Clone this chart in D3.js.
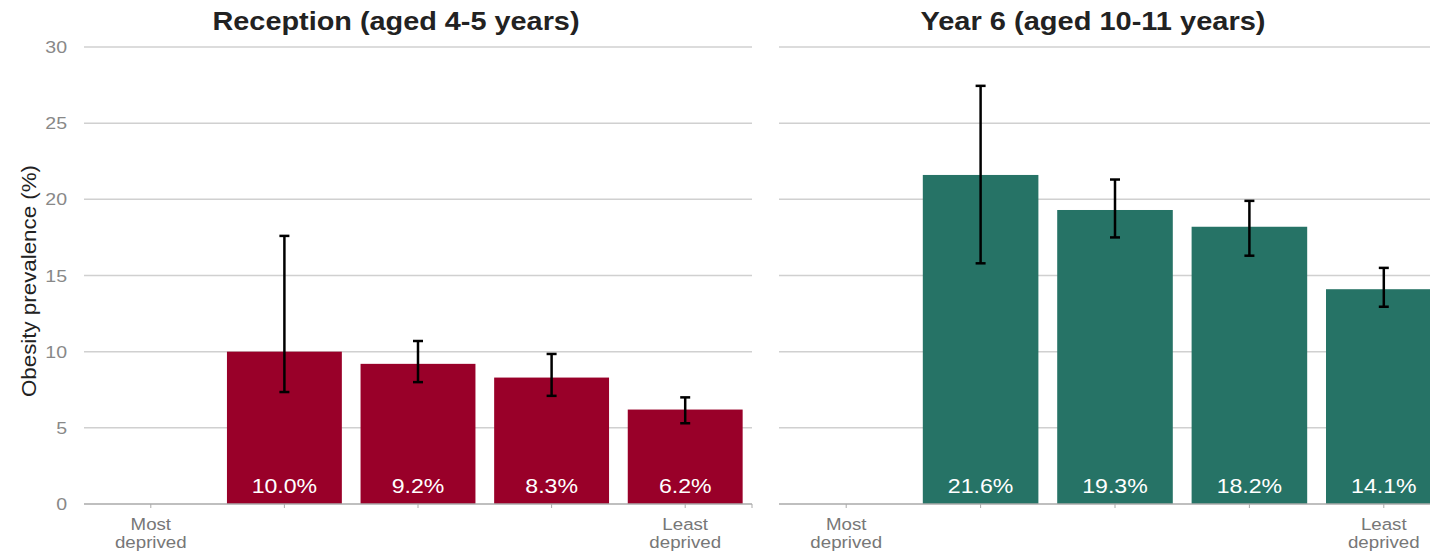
<!DOCTYPE html>
<html>
<head>
<script src="https://d3js.org/d3.v7.min.js"></script>
<style>
  body { margin: 0; background: #fff; }
  text { font-family: "Liberation Sans", Arial, sans-serif; }
</style>
</head>
<body>
<script>
var W = 1430, H = 552

var categories = ['Most deprived', 'Q2', 'Q3', 'Q4', 'Least deprived']
var yTicks = [0, 5, 10, 15, 20, 25, 30]

var receptionTitle = 'Reception (aged 4-5 years)'
var receptionValues = [null, 10.0, 9.2, 8.3, 6.2]
var receptionLower = [null, 7.35, 8.0, 7.1, 5.3]
var receptionUpper = [null, 17.6, 10.7, 9.85, 7.0]

var year6Title = 'Year 6 (aged 10-11 years)'
var year6Values = [null, 21.6, 19.3, 18.2, 14.1]
var year6Lower = [null, 15.8, 17.5, 16.3, 12.95]
var year6Upper = [null, 27.45, 21.3, 19.9, 15.5]

var svg = d3.select('body').append('svg')
  .attr('width', W)
  .attr('height', H)

var y = d3.scaleLinear().domain([0, 30]).range([504, 47])

// the source image is a bit wider than tall, so text gets stretched sideways
function stretch(sel, fx, fy, sx) {
  sel.attr('transform', function(d, i) {
    return 'translate(' + fx(d, i) + ',' + fy(d, i) + ') scale(' + sx + ',1)'
  })
}

function panel(x0, x1, title, titleLen, values, lower, upper, colour, showAxis) {
  var g = svg.append('g')
  var x = d3.scaleBand().domain(categories).range([x0, x1]).paddingInner(0.14).paddingOuter(0.07)
  var mid = function(c){ return x(c) + x.bandwidth() / 2 }

  // gridlines
  g.selectAll('line.grid')
    .data(yTicks.filter(function(d){ return d > 0 }))
    .enter().append('line')
    .attr('x1', x0).attr('x2', x1)
    .attr('y1', function(d){ return y(d) }).attr('y2', function(d){ return y(d) })
    .attr('stroke', '#d0d0d0').attr('stroke-width', 1.5)

  if (showAxis) {
    g.selectAll('text.tick')
      .data(yTicks)
      .enter().append('text')
      .attr('text-anchor', 'end')
      .attr('fill', '#888')
      .attr('font-size', '17px')
      .text(function(d){ return d })
      .call(stretch, function(){ return 67 }, function(d){ return y(d) + 6 }, 1.15)
  }

  var rows = categories.map(function(c, i) {
    return {cat: c, v: values[i], lo: lower[i], hi: upper[i]}
  }).filter(function(d){ return d.v != null })

  g.selectAll('rect.bar')
    .data(rows)
    .enter().append('rect')
    .attr('x', function(d){ return x(d.cat) })
    .attr('width', x.bandwidth())
    .attr('y', function(d){ return y(d.v) })
    .attr('height', function(d){ return y(0) - y(d.v) })
    .attr('fill', colour)

  g.selectAll('text.val')
    .data(rows)
    .enter().append('text')
    .attr('text-anchor', 'middle')
    .attr('fill', '#fff')
    .attr('font-size', '21px')
    .text(function(d){ return d.v.toFixed(1) + '%' })
    .call(stretch, function(d){ return mid(d.cat) }, function(){ return 493 }, 1.1)

  // baseline + ticks
  g.append('line')
    .attr('x1', x0).attr('x2', x1)
    .attr('y1', y(0)).attr('y2', y(0))
    .attr('stroke', '#aaa').attr('stroke-width', 1.5)
  g.append('line')
    .attr('x1', x1).attr('x2', x1)
    .attr('y1', y(0)).attr('y2', y(0) + 4)
    .attr('stroke', '#aaa').attr('stroke-width', 1)
  g.selectAll('line.xt')
    .data(categories)
    .enter().append('line')
    .attr('x1', mid).attr('x2', mid)
    .attr('y1', y(0)).attr('y2', y(0) + 4)
    .attr('stroke', '#aaa').attr('stroke-width', 1)

  // error bars
  var eb = g.selectAll('g.err').data(rows).enter().append('g')
  eb.append('line')
    .attr('x1', function(d){ return mid(d.cat) })
    .attr('x2', function(d){ return mid(d.cat) })
    .attr('y1', function(d){ return y(d.lo) })
    .attr('y2', function(d){ return y(d.hi) })
    .attr('stroke', '#000').attr('stroke-width', 2.5)
  ;['lo', 'hi'].forEach(function(k) {
    eb.append('line')
      .attr('x1', function(d){ return mid(d.cat) - 5 })
      .attr('x2', function(d){ return mid(d.cat) + 5 })
      .attr('y1', function(d){ return y(d[k]) })
      .attr('y2', function(d){ return y(d[k]) })
      .attr('stroke', '#000').attr('stroke-width', 2.5)
  })

  // end labels
  ;[categories[0], categories[categories.length - 1]].forEach(function(c) {
    c.split(' ').forEach(function(w, i) {
      g.append('text')
        .attr('text-anchor', 'middle')
        .attr('fill', '#777')
        .attr('font-size', '17px')
        .text(w)
        .call(stretch, function(){ return mid(c) }, function(){ return 530 + i * 18 }, 1.1)
    })
  })

  g.append('text')
    .attr('x', (x0 + x1) / 2 - 22 - titleLen / 2)
    .attr('y', 30)
    .attr('font-size', '25px')
    .attr('font-weight', 'bold')
    .attr('fill', '#222')
    .attr('textLength', titleLen)
    .attr('lengthAdjust', 'spacingAndGlyphs')
    .text(title)
}

panel(84, 752, receptionTitle, 367, receptionValues, receptionLower, receptionUpper, '#990029', true)
panel(779, 1451, year6Title, 345, year6Values, year6Lower, year6Upper, '#267366', false)

svg.append('text')
  .attr('transform', 'translate(36,397) rotate(-90)')
  .attr('font-size', '21px')
  .attr('fill', '#222')
  .attr('textLength', 232)
  .attr('lengthAdjust', 'spacingAndGlyphs')
  .text('Obesity prevalence (%)')
</script>
</body>
</html>
